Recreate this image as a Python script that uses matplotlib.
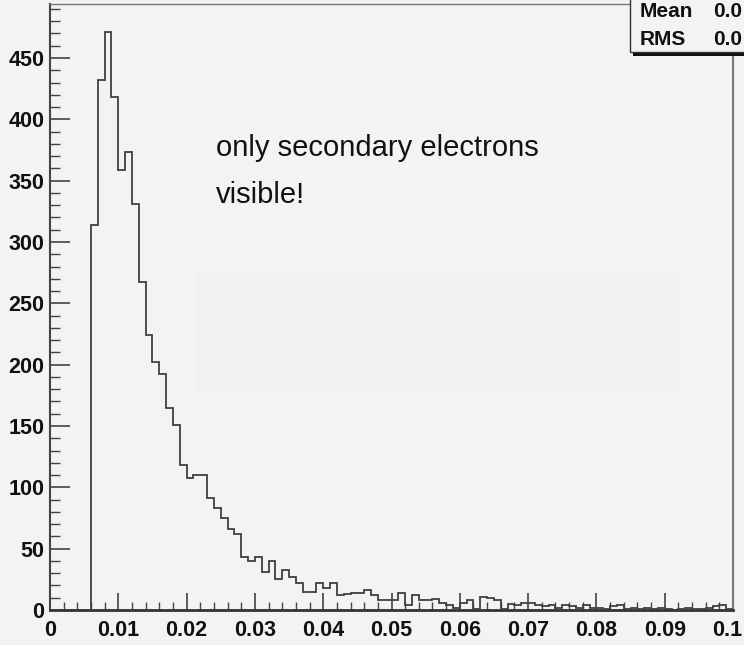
import numpy as np
import matplotlib
matplotlib.use("Agg")
import matplotlib.pyplot as plt
from matplotlib.patches import Rectangle
from matplotlib.ticker import FixedLocator, MultipleLocator
from matplotlib.transforms import ScaledTranslation

# ---- data -------------------------------------------------------------
bin_lo, bin_hi, n_bins = 0.0, 0.1, 100
counts = [0, 0, 0, 0, 0, 0, 314, 432, 471, 418,
          359, 373, 331, 267, 224, 202, 192, 165, 151, 118,
          108, 110, 110, 91, 83, 75, 66, 62, 43, 40,
          43, 31, 40, 25, 33, 27, 22, 15, 15, 22,
          18, 22, 12, 13, 14, 14, 16, 12, 8, 8,
          8, 14, 4, 12, 8, 8, 9, 6, 4, 2,
          6, 8, 1, 11, 10, 8, 1, 5, 4, 6,
          6, 4, 3, 4, 2, 4, 3, 2, 4, 2,
          2, 1, 3, 4, 1, 2, 1, 2, 1, 2,
          1, 0, 1, 2, 1, 1, 2, 3, 4, 1]
x_ticks = [0, 0.01, 0.02, 0.03, 0.04, 0.05, 0.06, 0.07, 0.08, 0.09, 0.1]
x_ticklabels = ["0", "0.01", "0.02", "0.03", "0.04", "0.05", "0.06",
                "0.07", "0.08", "0.09", "0.1"]
y_ticks = [0, 50, 100, 150, 200, 250, 300, 350, 400, 450]
y_ticklabels = ["0", "50", "100", "150", "200", "250", "300", "350", "400", "450"]
annotation_lines = ["only secondary electrons", "visible!"]
stats_names = ["Mean", "RMS"]
stats_values = ["0.0", "0.0"]   # only this much is visible in the reference

# ---- figure -----------------------------------------------------------
W, H = 744, 645
BG = "#f3f3f3"
fig = plt.figure(figsize=(W / 100, H / 100), dpi=100, facecolor=BG)
ax = fig.add_axes([50 / W, 35 / H, 683 / W, 606 / H])
ax.patch.set_alpha(0)

# faint rectangle visible in the reference background
fig.add_artist(Rectangle((195 / W, (H - 392) / H), 485 / W, 120 / H,
                         transform=fig.transFigure, facecolor="#f1f1f1",
                         edgecolor="none", zorder=0))

edges = np.linspace(bin_lo, bin_hi, n_bins + 1)
ax.stairs(counts, edges, color="#404040", lw=1.3, baseline=0, zorder=3)

ax.set_xlim(0, 0.1)
ax.set_ylim(0, 494)

tick_font = ["Liberation Sans", "DejaVu Sans"]
ax.xaxis.set_major_locator(FixedLocator(x_ticks))
ax.set_xticklabels(x_ticklabels, family=tick_font, fontweight="bold",
                   fontsize=15.5, color="#111111")
ax.xaxis.set_minor_locator(MultipleLocator(0.002))
ax.yaxis.set_major_locator(FixedLocator(y_ticks))
ax.set_yticklabels(y_ticklabels, family=tick_font, fontweight="bold",
                   fontsize=15.5, color="#111111")
ax.yaxis.set_minor_locator(MultipleLocator(10))

ax.tick_params(axis="x", which="major", direction="in", length=12.5,
               width=1.1, color="#333333", pad=7)
ax.tick_params(axis="x", which="minor", direction="in", length=6,
               width=1.0, color="#444444")
ax.tick_params(axis="y", which="major", direction="in", length=14.5,
               width=1.1, color="#333333", pad=4)
ax.tick_params(axis="y", which="minor", direction="in", length=7,
               width=1.0, color="#444444")
ax.tick_params(top=False, right=False)

# keep the last x label inside the image
last = ax.get_xticklabels()[-1]
last.set_transform(last.get_transform() + ScaledTranslation(-6 / 100, 0, fig.dpi_scale_trans))

ax.spines["left"].set_color("#444444")
ax.spines["left"].set_linewidth(1.5)
ax.spines["bottom"].set_color("#333333")
ax.spines["bottom"].set_linewidth(2.0)
ax.spines["top"].set_color("#777777")
ax.spines["top"].set_linewidth(1.0)
ax.spines["right"].set_color("#777777")
ax.spines["right"].set_linewidth(1.5)

# annotation text
ax.text(0.0243, 370, annotation_lines[0], family=["Liberation Sans", "DejaVu Sans"],
        fontsize=21, color="#111111", va="baseline", ha="left", zorder=4)
ax.text(0.0243, 332, annotation_lines[1], family=["Liberation Sans", "DejaVu Sans"],
        fontsize=21, color="#111111", va="baseline", ha="left", zorder=4)

# ---- statistics box (cut off by the image border) ----------------------
fig.add_artist(Rectangle((633 / W, 589 / H), 200 / W, 100 / H,
                         transform=fig.transFigure, facecolor="#111111",
                         edgecolor="none", zorder=5))
fig.add_artist(Rectangle((630 / W, 593 / H), 200 / W, 100 / H,
                         transform=fig.transFigure, facecolor=BG,
                         edgecolor="#333333", lw=1.0, zorder=6))
for name, val, base in zip(stats_names, stats_values, [628, 600]):
    fig.text(640 / W, base / H, name, family=tick_font, fontweight="bold",
             fontsize=15, color="#111111", va="baseline", ha="left", zorder=7)
    fig.text(742 / W, base / H, val, family=tick_font, fontweight="bold",
             fontsize=15, color="#111111", va="baseline", ha="right", zorder=7)

fig.savefig("out.png", dpi=100, facecolor=BG)
